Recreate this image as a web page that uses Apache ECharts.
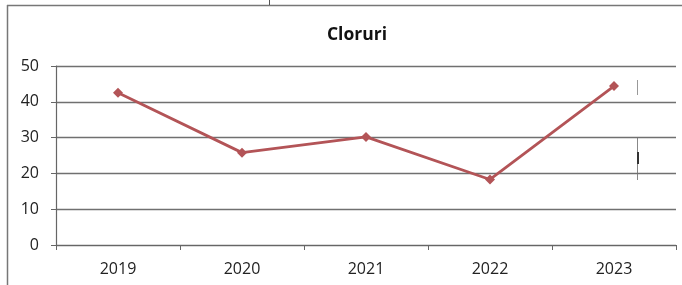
<!DOCTYPE html>
<html><head><meta charset="utf-8">
<script src="https://cdn.jsdelivr.net/npm/echarts@6/dist/echarts.min.js"></script>
<style>html,body{margin:0;padding:0;background:#fff}#c{width:682px;height:285px}</style>
</head><body><div id="c"></div>
<script>
const categories = ['2019','2020','2021','2022','2023'];
const values = [42.5, 25.8, 30.2, 18.3, 44.4];
const yTicks = [0, 10, 20, 30, 40, 50];

const chart = echarts.init(document.getElementById('c'));
chart.setOption({
  backgroundColor: '#fff',
  animation: false,
  title: {
    text: 'Cloruri', left: 352, top: 21, textAlign: 'center',
    textStyle: {fontFamily: 'Open Sans', fontWeight: 'bold', fontSize: 17.5, color: '#111'}
  },
  grid: {left: 56, right: 6, top: 66, bottom: 40},
  xAxis: {
    type: 'category', data: categories, boundaryGap: true,
    axisLine: {lineStyle: {color: '#666', width: 1.2}},
    axisTick: {show: true, length: 5, lineStyle: {color: '#666'}},
    axisLabel: {fontFamily: 'Open Sans', fontSize: 16, color: '#222', margin: 16}
  },
  yAxis: {
    type: 'value', min: yTicks[0], max: yTicks[yTicks.length-1], interval: 10,
    axisLine: {show: true, lineStyle: {color: '#666', width: 1.2}},
    axisTick: {show: true, length: 5, lineStyle: {color: '#666'}},
    splitLine: {lineStyle: {color: '#707070', width: 1.3}},
    axisLabel: {fontFamily: 'Open Sans', fontSize: 16, color: '#222', margin: 17}
  },
  series: [{
    type: 'line', data: values,
    symbol: 'diamond', symbolSize: 10,
    lineStyle: {color: '#b35457', width: 2.8},
    itemStyle: {color: '#b35457'}
  }],
  graphic: [
    {type: 'line', shape: {x1: 7, y1: 5.5, x2: 682, y2: 5.5}, style: {stroke: '#777', lineWidth: 1.5}},
    {type: 'line', shape: {x1: 7.5, y1: 5, x2: 7.5, y2: 285}, style: {stroke: '#777', lineWidth: 1.5}},
    {type: 'line', shape: {x1: 269.5, y1: 0, x2: 269.5, y2: 5}, style: {stroke: '#555', lineWidth: 1}},
    {type: 'line', shape: {x1: 637.5, y1: 80, x2: 637.5, y2: 95}, style: {stroke: '#999', lineWidth: 1}},
    {type: 'line', shape: {x1: 637.5, y1: 137, x2: 637.5, y2: 180}, style: {stroke: '#888', lineWidth: 1}},
    {type: 'line', shape: {x1: 638, y1: 152, x2: 638, y2: 164}, style: {stroke: '#333', lineWidth: 2}}
  ]
});
</script></body></html>
